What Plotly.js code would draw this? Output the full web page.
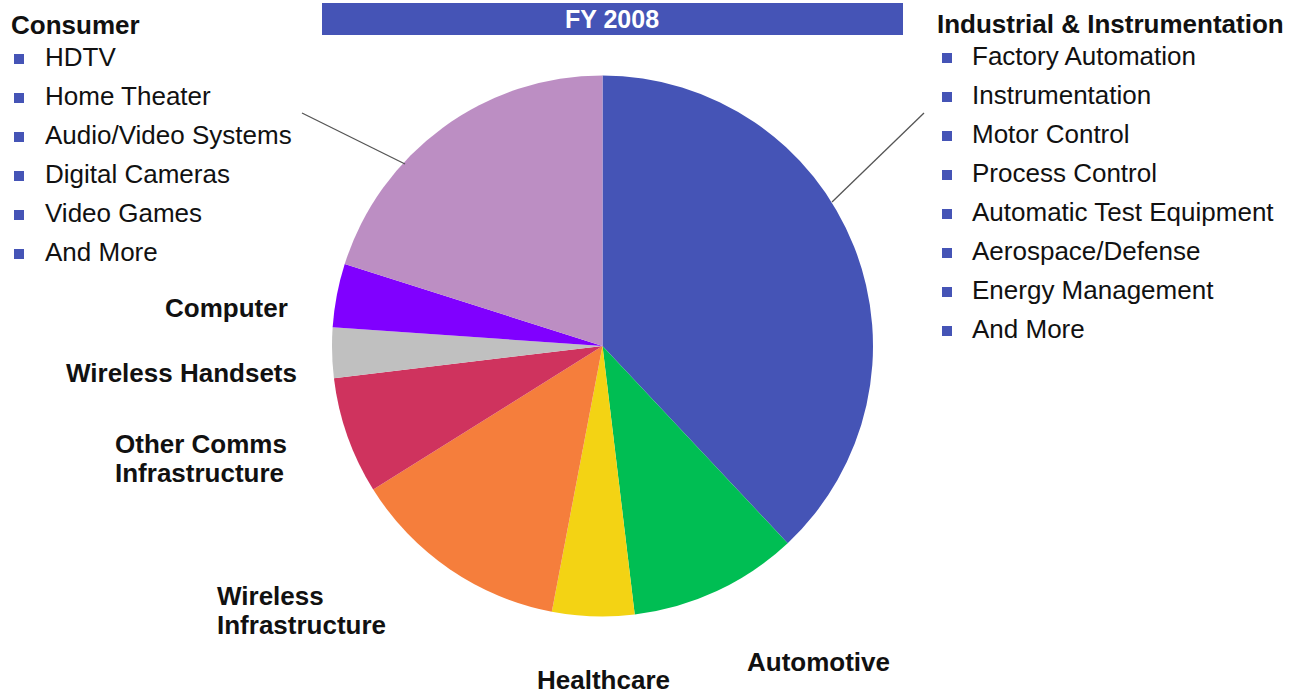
<!DOCTYPE html>
<html>
<head>
<meta charset="utf-8">
<script src="https://cdn.plot.ly/plotly-3.0.1.min.js"></script>
<style>html,body{margin:0;padding:0;background:#fff;}#chart{width:1305px;height:697px;}</style>
</head>
<body>
<div id="chart"></div>
<script>
// ---- data ----
const segments = ["Industrial & Instrumentation", "Automotive", "Healthcare", "Wireless Infrastructure",
                  "Other Comms Infrastructure", "Wireless Handsets", "Computer", "Consumer"];
const shares = [38.0, 10.1, 4.9, 13.1, 7.0, 3.0, 3.8, 20.1];
const sliceColors = ["#4554B6", "#00BE53", "#F3D314", "#F57E3C", "#CF335E", "#C0C0C0", "#8000FF", "#BC8EC3"];
const sliceLabelText = ["", "Automotive", "Healthcare", "Wireless<br>Infrastructure",
                        "Other Comms<br>Infrastructure", "Wireless Handsets", "Computer", ""];
const title = "FY 2008";
const consumerHeader = "Consumer";
const consumerItems = ["HDTV", "Home Theater", "Audio/Video Systems", "Digital Cameras", "Video Games", "And More"];
const industrialHeader = "Industrial & Instrumentation";
const industrialItems = ["Factory Automation", "Instrumentation", "Motor Control", "Process Control",
                         "Automatic Test Equipment", "Aerospace/Defense", "Energy Management", "And More"];

// ---- layout helpers (pixel -> paper) ----
const W = 1305, H = 697;
const px = x => x / W;
const py = y => 1 - y / H;
const FONT = "Liberation Sans, Arial, sans-serif";
const FS = 26;
const annotations = [];
const shapes = [];

function addText(text, x, baseline, opts) {
  opts = opts || {};
  const xa = opts.xanchor || "left";
  annotations.push({
    xref: "paper", yref: "paper", x: px(xa === "left" ? x - 2 : x), y: py(baseline - 9),
    xanchor: xa, yanchor: "middle", showarrow: false,
    text: opts.bold ? "<b>" + text + "</b>" : text,
    font: {family: FONT, size: opts.size || FS, color: opts.color || "#111"}
  });
}

// banner
shapes.push({type: "rect", xref: "paper", yref: "paper", x0: px(322), x1: px(903), y0: py(35), y1: py(3),
             fillcolor: "#4554B6", line: {width: 0}, layer: "below"});
addText(title, 612, 28, {bold: true, color: "#ffffff", xanchor: "center", size: 25});

// side lists
function addList(header, items, xHead, xBullet, xText, baseHead, baseFirst, step) {
  addText(header, xHead, baseHead, {bold: true});
  items.forEach((it, i) => {
    const b = baseFirst + i * step;
    addText(it, xText, b);
    shapes.push({type: "rect", xref: "paper", yref: "paper",
                 x0: px(xBullet), x1: px(xBullet + 10), y0: py(b - 2), y1: py(b - 12),
                 fillcolor: "#4554B6", line: {width: 0}});
  });
}
addList(consumerHeader, consumerItems, 11, 14, 45, 34, 66, 39);
addList(industrialHeader, industrialItems, 937, 942, 972, 33, 65, 39);

// slice labels
const labelPos = [null, [747, 671], [537, 689], [217, 605], [115, 453], [66, 382], [165, 317], null];
sliceLabelText.forEach((t, i) => {
  if (!t || !labelPos[i]) return;
  t.split("<br>").forEach((line, j) => addText(line, labelPos[i][0], labelPos[i][1] + j * 29, {bold: true}));
});

// leader lines
shapes.push({type: "line", xref: "paper", yref: "paper", x0: px(302), y0: py(113), x1: px(405), y1: py(164),
             line: {color: "#555", width: 1.3}});
shapes.push({type: "line", xref: "paper", yref: "paper", x0: px(924), y0: py(113), x1: px(832), y1: py(202),
             line: {color: "#555", width: 1.3}});

const trace = {
  type: "pie", labels: segments, values: shares, sort: false, direction: "clockwise", rotation: 0,
  marker: {colors: sliceColors, line: {width: 0}}, textinfo: "none", hoverinfo: "label+percent",
  domain: {x: [px(332), px(873)], y: [py(617), py(75)]}
};

Plotly.newPlot("chart", [trace], {
  width: W, height: H, autosize: false, showlegend: false,
  margin: {l: 0, r: 0, t: 0, b: 0}, paper_bgcolor: "#fff",
  annotations: annotations, shapes: shapes
}, {displayModeBar: false, staticPlot: true});
</script>
</body>
</html>
